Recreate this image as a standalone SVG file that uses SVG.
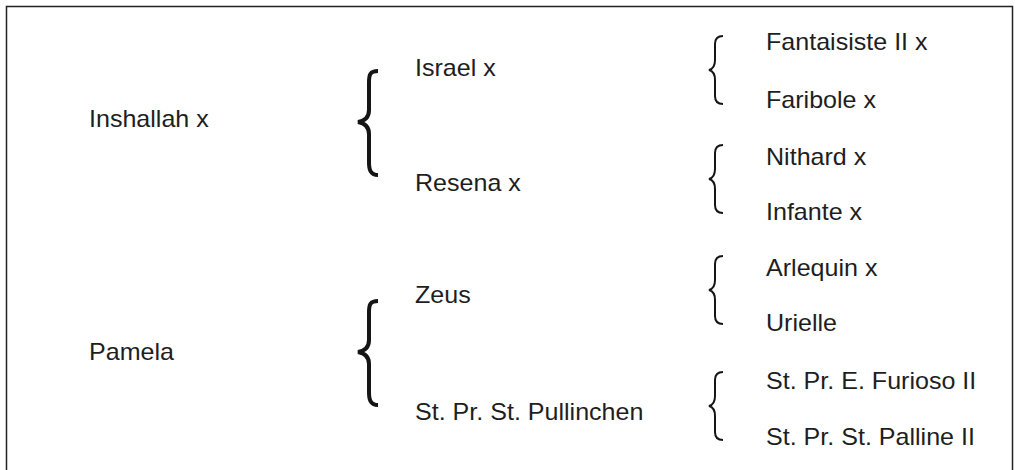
<svg xmlns="http://www.w3.org/2000/svg" xmlns:xlink="http://www.w3.org/1999/xlink" width="1021" height="470" viewBox="0 0 1021 470">
<style>
.t{font-family:"Liberation Sans",Arial,sans-serif;font-size:23px;fill:#1e1e1e}
.bb{fill:none;stroke:#151515;stroke-width:4}
.sb{fill:none;stroke:#151515;stroke-width:2}
</style>
<defs>
<path id="big" d="M 20 -51 C 12 -51 11 -47 11 -40 L 11 -12 C 11 -4 6 -1 0 0 C 6 1 11 4 11 12 L 11 40 C 11 47 12 53 20 53"/>
<path id="small" d="M 14 -34 C 8 -34 6 -31 6 -26 L 6 -10 C 6 -4 4 -1 0 0 C 4 1 6 4 6 10 L 6 26 C 6 31 8 34 14 34"/>
</defs>
<rect x="6.5" y="6.5" width="1006" height="500" fill="#fff" stroke="#222" stroke-width="1.5"/>
<g id="connectors">
<use xlink:href="#big" class="bb" x="358" y="122"/>
<use xlink:href="#big" class="bb" x="358" y="352"/>
<use xlink:href="#small" class="sb" x="709" y="70"/>
<use xlink:href="#small" class="sb" x="709" y="179"/>
<use xlink:href="#small" class="sb" x="709" y="290"/>
<use xlink:href="#small" class="sb" x="709" y="406"/>
</g>
<g id="n-inshallah" transform="translate(89,127) scale(1.09,1)"><text class="t">Inshallah x</text></g>
<g id="n-pamela" transform="translate(89,360) scale(1.09,1)"><text class="t">Pamela</text></g>
<g id="n-israel" transform="translate(415,76) scale(1.09,1)"><text class="t">Israel x</text></g>
<g id="n-resena" transform="translate(415,191) scale(1.09,1)"><text class="t">Resena x</text></g>
<g id="n-zeus" transform="translate(415,303) scale(1.09,1)"><text class="t">Zeus</text></g>
<g id="n-pullinchen" transform="translate(415,420) scale(1.09,1)"><text class="t">St. Pr. St. Pullinchen</text></g>
<g id="n-fantaisiste" transform="translate(766,50) scale(1.09,1)"><text class="t">Fantaisiste II x</text></g>
<g id="n-faribole" transform="translate(766,108) scale(1.09,1)"><text class="t">Faribole x</text></g>
<g id="n-nithard" transform="translate(766,165) scale(1.09,1)"><text class="t">Nithard x</text></g>
<g id="n-infante" transform="translate(766,220) scale(1.09,1)"><text class="t">Infante x</text></g>
<g id="n-arlequin" transform="translate(766,276) scale(1.09,1)"><text class="t">Arlequin x</text></g>
<g id="n-urielle" transform="translate(766,331) scale(1.09,1)"><text class="t">Urielle</text></g>
<g id="n-furioso" transform="translate(766,389) scale(1.09,1)"><text class="t">St. Pr. E. Furioso II</text></g>
<g id="n-palline" transform="translate(766,445) scale(1.09,1)"><text class="t">St. Pr. St. Palline II</text></g>
</svg>
